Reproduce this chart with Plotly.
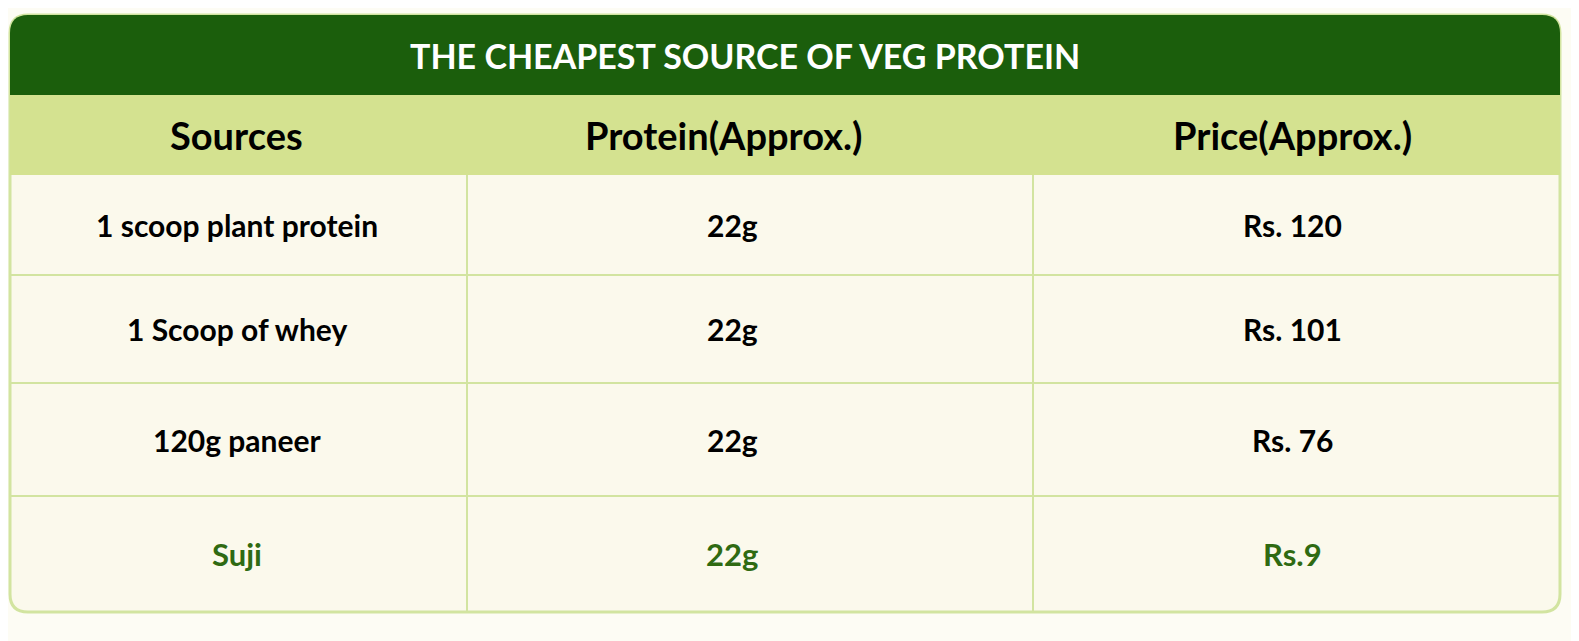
import plotly.graph_objects as go

title = "THE CHEAPEST SOURCE OF VEG PROTEIN"
headers = ["Sources", "Protein(Approx.)", "Price(Approx.)"]
sources = ["1 scoop plant protein", "1 Scoop of whey", "120g paneer", "Suji"]
protein = ["22g", "22g", "22g", "22g"]
price = ["Rs. 120", "Rs. 101", "Rs. 76", "Rs.9"]

# layout in pixel space (page body has an 8px margin)
W, H = 1579, 641
off = 8
left, right, top, bottom = 10, 1560, 15, 612
title_bot, head_bot = 95, 175
col_edges = [left, 467, 1033, right]
row_edges = [head_bot, 275, 383, 496, bottom]
r = 18

dark = "#1b5e0c"
light = "#d4e290"
cream = "#fbf9ec"
grid = "#d2e4a0"
hilite = "#2f6a12"

fig = go.Figure()

def rounded(x0, y0, x1, y1, rad, top_only=False):
    if top_only:
        return (f"M{x0},{y1} L{x0},{y0+rad} Q{x0},{y0} {x0+rad},{y0} L{x1-rad},{y0} "
                f"Q{x1},{y0} {x1},{y0+rad} L{x1},{y1} Z")
    return (f"M{x0+rad},{y0} L{x1-rad},{y0} Q{x1},{y0} {x1},{y0+rad} L{x1},{y1-rad} "
            f"Q{x1},{y1} {x1-rad},{y1} L{x0+rad},{y1} Q{x0},{y1} {x0},{y1-rad} "
            f"L{x0},{y0+rad} Q{x0},{y0} {x0+rad},{y0} Z")

shapes = [
    dict(type="path", path=rounded(left, top, right, bottom, r), fillcolor=cream,
         line=dict(color=grid, width=3), layer="below"),
    dict(type="path", path=rounded(left, top, right, title_bot, r, True), fillcolor=dark,
         line=dict(width=0), layer="below"),
    dict(type="rect", x0=left, x1=right, y0=title_bot, y1=head_bot, fillcolor=light,
         line=dict(width=0), layer="below"),
]
for x in col_edges[1:-1]:
    shapes.append(dict(type="line", x0=x, x1=x, y0=head_bot, y1=bottom, line=dict(color=grid, width=2)))
for y in row_edges[1:-1]:
    shapes.append(dict(type="line", x0=left, x1=right, y0=y, y1=y, line=dict(color=grid, width=2)))

font = "Lato"
ann = [dict(x=745, y=(top + title_bot) / 2, text=f"<b>{title}</b>",
            font=dict(family=font, size=34, color="white"))]
col_cx = [236, 723, 1292]
for cx, h in zip(col_cx, headers):
    ann.append(dict(x=cx, y=(title_bot + head_bot) / 2, text=f"<b>{h}</b>",
                    font=dict(family=font, size=38, color="black")))
body_cx = [237, 732, 1292]
for i in range(len(sources)):
    cy = (row_edges[i] + row_edges[i + 1]) / 2
    last = i == len(sources) - 1
    color = hilite if last else "black"
    size = 31 if last else 30
    for cx, val in zip(body_cx, [sources[i], protein[i], price[i]]):
        ann.append(dict(x=cx, y=cy, text=f"<b>{val}</b>", font=dict(family=font, size=size, color=color)))
for a in ann:
    a.update(xref="x", yref="y", showarrow=False, xanchor="center", yanchor="middle")

fig.update_layout(
    width=W, height=H, margin=dict(l=0, r=0, t=0, b=0),
    paper_bgcolor="#fdfcf4", plot_bgcolor="#fdfcf4",
    xaxis=dict(range=[off, W + off], visible=False, fixedrange=True),
    yaxis=dict(range=[H + off, off], visible=False, fixedrange=True),
    shapes=shapes, annotations=ann, showlegend=False,
)
fig.write_html("out.html")
